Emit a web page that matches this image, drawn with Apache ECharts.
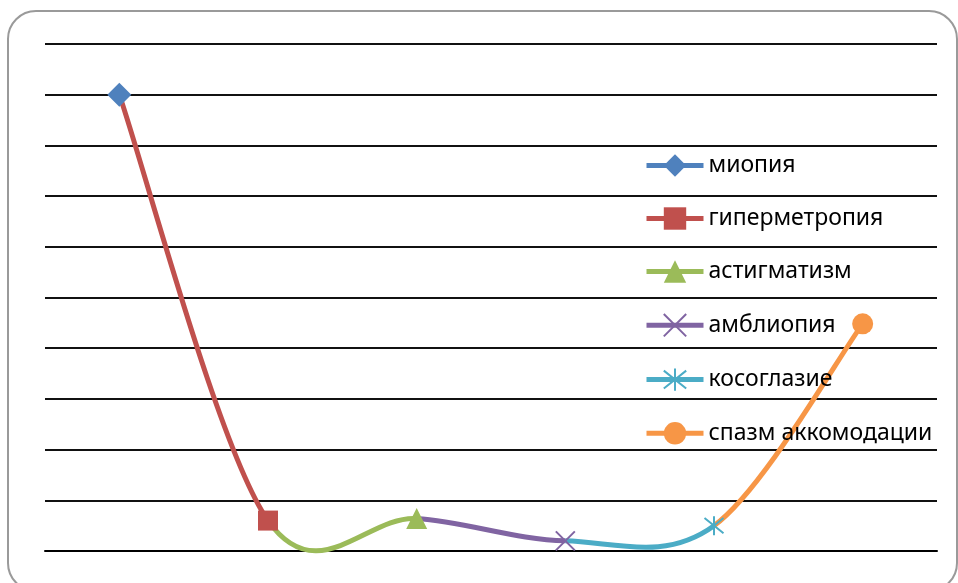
<!DOCTYPE html>
<html>
<head>
<meta charset="utf-8">
<script src="https://cdn.jsdelivr.net/npm/echarts@6/dist/echarts.min.js"></script>
<style>html,body{margin:0;padding:0;background:#fff;}#c{width:958px;height:583px;}</style>
</head>
<body>
<div id="c"></div>
<script>
var categories = ['миопия', 'гиперметропия', 'астигматизм', 'амблиопия', 'косоглазие', 'спазм аккомодации'];
var values = [45, 3, 3.2, 1, 2.5, 22.4];
var colors = ['#4F81BD', '#C0504D', '#9BBB59', '#8064A2', '#4BACC6', '#F79646'];
var symbols = ['diamond', 'rect', 'triangle',
  'path://M0,0L10,10M10,0L0,10',
  'path://M5,0L5,10M1,1L9,9M1,9L9,1',
  'circle'];
var symbolSizes = [24, 20, 21, 19, 19, 21];
var yTicks = {min: 0, max: 50, interval: 5};

var chart = echarts.init(document.getElementById('c'));
var series = [];
categories.forEach(function (name, i) {
  var data = values.map(function (v, j) { return j === i ? v : '-'; });
  var stroke = (i === 3 || i === 4);
  series.push({
    name: name,
    type: 'line',
    data: data,
    z: 5,
    symbol: symbols[i],
    symbolSize: symbolSizes[i],
    showAllSymbol: true,
    color: colors[i],
    lineStyle: {width: 5, color: colors[i]},
    itemStyle: stroke ? {color: 'rgba(0,0,0,0)', borderColor: colors[i], borderWidth: 2}
                      : {color: colors[i], borderWidth: 0},
    emphasis: {disabled: true},
    animation: false
  });
});

// smooth curve through all points (cardinal spline), each segment coloured by its end point's series
var T = 1 / 6;
series.push({
  name: '_curve',
  type: 'custom',
  data: values.map(function (v, i) { return [i, v]; }),
  encode: {x: 0, y: 1},
  z: 2,
  silent: true,
  animation: false,
  renderItem: function (params, api) {
    var i = params.dataIndex;
    if (i === 0) return null;
    var n = values.length;
    function P(k) { k = Math.max(0, Math.min(n - 1, k)); return api.coord([k, values[k]]); }
    var p0 = P(i - 2), p1 = P(i - 1), p2 = P(i), p3 = P(i + 1);
    return {
      type: 'bezierCurve',
      shape: {
        x1: p1[0], y1: p1[1], x2: p2[0], y2: p2[1],
        cpx1: p1[0] + (p2[0] - p0[0]) * T, cpy1: p1[1] + (p2[1] - p0[1]) * T,
        cpx2: p2[0] - (p3[0] - p1[0]) * T, cpy2: p2[1] - (p3[1] - p1[1]) * T
      },
      style: {stroke: colors[i], lineWidth: 5, fill: 'none', lineCap: 'butt'}
    };
  }
});

chart.setOption({
  backgroundColor: '#fff',
  animation: false,
  graphic: [{
    type: 'rect',
    shape: {x: 8, y: 11, width: 949, height: 580, r: 28},
    style: {fill: 'none', stroke: '#9a9a9a', lineWidth: 2},
    z: -1
  }],
  grid: {left: 45, right: 21, top: 44, bottom: 32},
  xAxis: {
    type: 'category',
    data: categories,
    boundaryGap: true,
    axisLine: {show: true, lineStyle: {color: '#000', width: 2}},
    axisTick: {show: false},
    axisLabel: {show: false},
    splitLine: {show: false}
  },
  yAxis: {
    type: 'value',
    min: yTicks.min, max: yTicks.max, interval: yTicks.interval,
    axisLine: {show: false},
    axisTick: {show: false},
    axisLabel: {show: false},
    splitLine: {show: true, lineStyle: {color: '#111', width: 2}}
  },
  legend: {
    data: categories,
    orient: 'vertical',
    left: 644,
    top: 154,
    padding: 0,
    itemWidth: 57,
    itemHeight: 28,
    itemGap: 30,
    lineStyle: {width: 5},
    textStyle: {color: '#000', fontSize: 23, fontFamily: 'Noto Sans'},
    selectedMode: false
  },
  series: series
});
</script>
</body>
</html>
